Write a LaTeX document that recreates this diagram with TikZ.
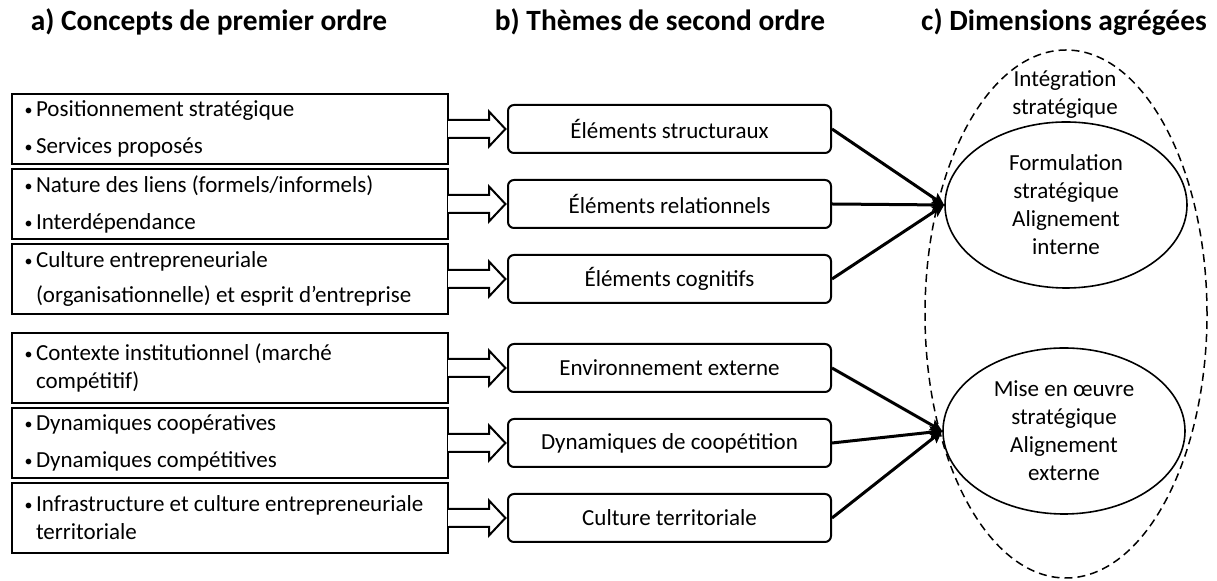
\documentclass[tikz,border=0pt]{standalone}
\usepackage{fontspec}
\setmainfont{Carlito}
\usetikzlibrary{shapes.geometric, arrows.meta, positioning, calc}
\setlength{\parindent}{0pt}
\tikzstyle{concept} = [rectangle, draw=black, line width=1pt, minimum width=218pt, minimum height=35pt, text width=207pt, inner xsep=5.5pt, inner ysep=0pt, align=flush left]
\tikzstyle{theme} = [rectangle, rounded corners=3pt, draw=black, line width=1pt, minimum width=161.5pt, minimum height=24pt, text centered]
\tikzstyle{dimension} = [ellipse, draw=black, line width=0.8pt, minimum width=121pt, minimum height=83pt, inner sep=0pt, align=center]
\tikzstyle{dimgroup} = [ellipse, draw=black, line width=0.75pt, dash pattern=on 4pt off 2.5pt, minimum width=141pt, minimum height=264pt]
\tikzstyle{title} = [font=\fontsize{14.7}{17}\selectfont\bfseries]
\tikzstyle{arrow} = [line width=1.5pt, -{Stealth[length=6pt, width=6pt, inset=1pt]}]
\newcommand{\puce}{\makebox[6.5pt][l]{\hspace{0.8pt}\raisebox{0.5pt}{\fontsize{8}{8}\selectfont\textbullet}}}
\newcommand{\suite}{\hspace*{6.5pt}}
% big hollow arrow from a concept box to its theme
\newcommand{\openarrow}[2]{%
  \fill[white] ($(#1.east)+(-0.6pt,3.9pt)$) rectangle ($(#1.east)+(0.6pt,-3.9pt)$);
  \draw[line width=1pt, line join=miter] ($(#1.east)+(0pt,4.5pt)$) -- ($(#2.west)+(-9pt,4.5pt)$) -- ($(#2.west)+(-9pt,8.75pt)$) -- ($(#2.west)+(-0.8pt,0pt)$) -- ($(#2.west)+(-9pt,-8.75pt)$) -- ($(#2.west)+(-9pt,-4.5pt)$) -- ($(#1.east)+(0pt,-4.5pt)$);}

\begin{document}
\begin{tikzpicture}[x=0.5pt, y=-0.5pt, node font=\fontsize{11.5}{14}\selectfont]
        \useasboundingbox (0,0) rectangle (1217,581);
        % Titles
        \node (title_a) [title] at (209,22) {a) Concepts de premier ordre};
        \node (title_b) [title] at (660,22) {b) Thèmes de second ordre};
        \node (title_c) [title] at (1064,22) {c) Dimensions agrégées};

        % Concepts
        \node (positionnement) [concept] at (230,129) {\puce Positionnement stratégique\\[4.5pt]\puce Services proposés};
        \node (liens) [concept, below=1.5pt of positionnement] {\puce Nature des liens (formels/informels)\\[4.5pt]\puce Interdépendance};
        \node (culture_orga) [concept, below=1.5pt of liens] {\puce Culture entrepreneuriale\\[3.5pt]\suite (organisationnelle) et esprit d’entreprise};
        \node (contexte) [concept, below=8.5pt of culture_orga] {\puce Contexte institutionnel (marché\\\suite compétitif)};
        \node (dynamiques) [concept, below=1.5pt of contexte] {\puce Dynamiques coopératives\\[4.5pt]\puce Dynamiques compétitives};
        \node (infrastructure) [concept, below=1.5pt of dynamiques] {\puce Infrastructure et culture entrepreneuriale\\\suite territoriale};

        % Themes
        \node (structuraux) [theme, right=29pt of positionnement] {Éléments structuraux};
        \node (relationnels) [theme, right=29pt of liens] {Éléments relationnels};
        \node (cognitifs) [theme, right=29pt of culture_orga] {Éléments cognitifs};
        \node (environnement) [theme, right=29pt of contexte] {Environnement externe};
        \node (coopetition) [theme, right=29pt of dynamiques] {Dynamiques de coopétition};
        \node (territoriale) [theme, right=29pt of infrastructure] {Culture territoriale};

        % Dimensions
        \node (integration) [dimgroup] at (1066,314) {};
        \node (integration_label) [align=center] at (1065,95) {Intégration\\stratégique};
        \node (formulation) [dimension] at (1066,205) {Formulation\\stratégique\\Alignement\\interne};
        \node (mise_en_oeuvre) [dimension] at (1064,431) {Mise en œuvre\\stratégique\\Alignement\\externe};

        % Hollow arrows
        \openarrow{positionnement}{structuraux}
        \openarrow{liens}{relationnels}
        \openarrow{culture_orga}{cognitifs}
        \openarrow{contexte}{environnement}
        \openarrow{dynamiques}{coopetition}
        \openarrow{infrastructure}{territoriale}

        % Lines
        \draw [arrow] (structuraux.east) -- (formulation.west);
        \draw [arrow] (relationnels.east) -- (formulation.west);
        \draw [arrow] (cognitifs.east) -- (formulation.west);
        \draw [arrow] (environnement.east) -- (mise_en_oeuvre.west);
        \draw [arrow] (coopetition.east) -- (mise_en_oeuvre.west);
        \draw [arrow] (territoriale.east) -- (mise_en_oeuvre.west);
    \end{tikzpicture}
\end{document}
